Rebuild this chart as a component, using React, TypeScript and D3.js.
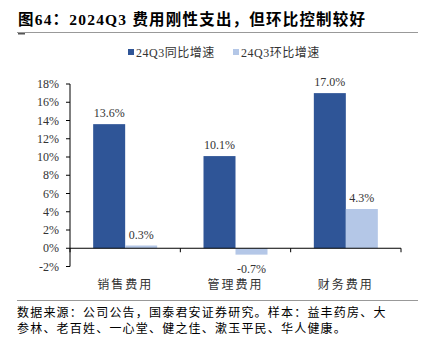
import React from "react";
import * as d3 from "d3";

const categories = ["销售费用", "管理费用", "财务费用"];
const seriesNames = ["24Q3同比增速", "24Q3环比增速"];
const yoy = [13.6, 10.1, 17.0];
const qoq = [0.3, -0.7, 4.3];
const yTicks = [-2, 0, 2, 4, 6, 8, 10, 12, 14, 16, 18];
const colors = ["#2F5597", "#B4C7E7"];

const W = 435, H = 343;
const serif = "'Times New Roman', 'Liberation Serif', 'Noto Sans CJK SC', serif";

export default function App() {
  const x0 = 70, x1 = 401;
  const y = d3.scaleLinear().domain([-2, 18]).range([266.5, 84]);
  const xb = d3.scaleBand().domain(categories).range([x0, x1]);
  const inner = d3.scaleBand().domain(["a", "b"]).range([0, 64]);
  const series = [yoy, qoq];
  return (
    <svg width={W} height={H} style={{ position: "absolute", left: 0, top: 0, background: "#fff" }}>
      <text x={18} y={25} fontFamily={serif} fontWeight="bold" fontSize={15.5} fill="#000" letterSpacing={1.2}>图64：2024Q3 费用刚性支出，但环比控制较好</text>
      <line x1={17} x2={418} y1={32.5} y2={32.5} stroke="#999" strokeWidth={1} />
      <rect x={18} y={33} width={7} height={1.5} fill="#555" />
      {/* legend */}
      {seriesNames.map((s, i) => {
        const lx = i === 0 ? 128 : 233;
        return (
          <g key={s}>
            <rect x={lx} y={49} width={6} height={6} fill={colors[i]} />
            <text x={lx + 8} y={57} fontFamily={serif} fontSize={12} fill="#333" letterSpacing={0.5}>{s}</text>
          </g>
        );
      })}
      {/* y axis */}
      <line x1={x0} x2={x0} y1={y(18)} y2={y(-2)} stroke="#000" />
      {yTicks.map((t) => (
        <g key={t}>
          <line x1={x0 - 4} x2={x0} y1={y(t)} y2={y(t)} stroke="#000" />
          <text x={x0 - 11} y={y(t) + 4} textAnchor="end" fontFamily={serif} fontSize={12} fill="#333">{t}%</text>
        </g>
      ))}
      {/* bars */}
      {categories.map((c, ci) => (
        <g key={c}>
          {series.map((vals, si) => {
            const v = vals[ci];
            const bx = (xb(c) as number) + xb.bandwidth() / 2 - 32 + (inner(si === 0 ? "a" : "b") as number);
            const top = y(Math.max(0, v));
            const h = Math.abs(y(v) - y(0));
            return (
              <g key={si}>
                <rect x={bx} y={top} width={inner.bandwidth()} height={h} fill={colors[si]} />
                <text x={bx + inner.bandwidth() / 2} y={v >= 0 ? y(v) - 7 : y(v) + 18.5} textAnchor="middle" fontFamily={serif} fontSize={12} fill="#333">{v.toFixed(1)}%</text>
              </g>
            );
          })}
        </g>
      ))}
      {/* x axis */}
      <line x1={x0} x2={x1} y1={y(0)} y2={y(0)} stroke="#000" />
      {[x0, ...categories.map((c) => (xb(c) as number) + xb.bandwidth())].map((tx, i) => (
        <line key={i} x1={tx} x2={tx} y1={y(0)} y2={y(0) + 4} stroke="#000" />
      ))}
      {categories.map((c) => (
        <text key={c} x={(xb(c) as number) + xb.bandwidth() / 2} y={289} textAnchor="middle" fontFamily={serif} fontSize={12} fill="#333" letterSpacing={2}>{c}</text>
      ))}
      <line x1={17} x2={418} y1={300.5} y2={300.5} stroke="#999" />
      <text x={17} y={317} fontFamily={serif} fontSize={12} fill="#000" letterSpacing={1.2}>数据来源：公司公告，国泰君安证券研究。样本：益丰药房、大</text>
      <text x={17} y={333} fontFamily={serif} fontSize={12} fill="#000" letterSpacing={1.2}>参林、老百姓、一心堂、健之佳、漱玉平民、华人健康。</text>
    </svg>
  );
}
